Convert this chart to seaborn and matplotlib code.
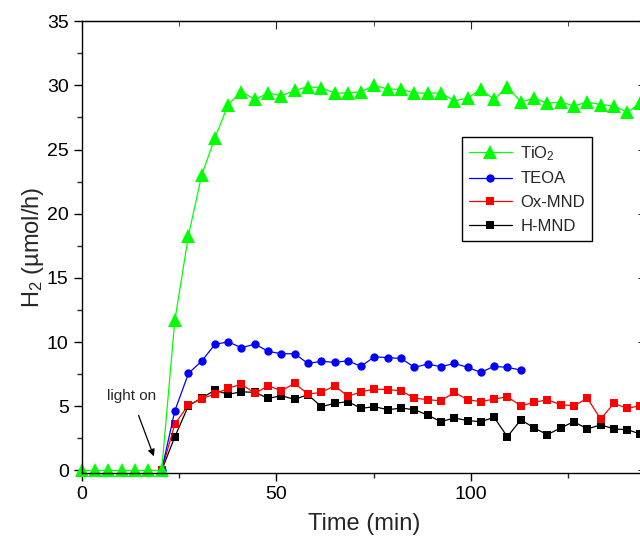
import matplotlib.pyplot as plt
import seaborn as sns

# sampling times (min)
time = [0, 3.4, 6.8, 10.3, 13.7, 17.1, 20.5, 23.9, 27.4, 30.8, 34.2, 37.6,
        41.0, 44.5, 47.9, 51.3, 54.7, 58.1, 61.6, 65.0, 68.4, 71.8, 75.2,
        78.7, 82.1, 85.5, 88.9, 92.3, 95.8, 99.2, 102.6, 106.0, 109.4, 112.9,
        116.3, 119.7, 123.1, 126.5, 130.0, 133.4, 136.8, 140.2, 143.6]

tio2 = [0, 0, 0, 0, 0, 0, 0, 11.7, 18.3, 23.0, 25.9, 28.5, 29.5, 28.9, 29.4,
        29.2, 29.6, 29.9, 29.8, 29.4, 29.4, 29.5, 30.0, 29.7, 29.7, 29.4,
        29.4, 29.4, 28.8, 29.0, 29.7, 28.9, 29.9, 28.7, 29.0, 28.6, 28.7,
        28.4, 28.7, 28.5, 28.4, 27.9, 28.6]

# TEOA starts at the light-on point
teoa_time = time[6:34]
teoa = [0, 4.65, 7.56, 8.52, 9.82, 10.02, 9.56, 9.84, 9.28, 9.09, 9.09,
        8.34, 8.5, 8.42, 8.54, 8.11, 8.86, 8.78, 8.73, 8.03, 8.29, 8.08,
        8.34, 8.03, 7.64, 8.11, 8.03, 7.82]

mnd_time = time[6:]
ox_mnd = [0, 3.62, 5.1, 5.6, 5.95, 6.4, 6.73, 6.0, 6.6, 6.21, 6.79, 5.95,
          6.08, 6.6, 5.77, 6.13, 6.34, 6.29, 6.21, 5.64, 5.51, 5.43, 6.08,
          5.51, 5.36, 5.56, 5.74, 5.04, 5.31, 5.51, 5.12, 5.04, 5.62, 4.01,
          5.23, 4.84, 5.04]
h_mnd = [0, 2.63, 5.04, 5.64, 6.26, 5.93, 6.13, 6.08, 5.62, 5.82, 5.54, 5.9,
         4.97, 5.23, 5.36, 4.84, 4.97, 4.73, 4.86, 4.73, 4.32, 3.8, 4.09,
         3.88, 3.8, 4.14, 2.63, 3.95, 3.31, 2.79, 3.31, 3.8, 3.23, 3.56,
         3.23, 3.18, 2.84]

sns.set_style("ticks")
plt.rcParams["font.family"] = ["Liberation Sans", "DejaVu Sans"]
plt.rcParams["mathtext.fontset"] = "custom"
plt.rcParams["mathtext.rm"] = "Liberation Sans"
plt.rcParams["mathtext.it"] = "Liberation Sans:italic"

fig = plt.figure(figsize=(6.4, 5.36), dpi=100)
# axes run past the right edge of the figure, as in the cropped original
ax = fig.add_axes([0.128, 0.1175, 0.881, 0.843])

sns.lineplot(x=mnd_time, y=h_mnd, ax=ax, color="black", lw=0.9,
             marker="s", markersize=5.5, markeredgewidth=0,
             label="H-MND", clip_on=False)
sns.lineplot(x=mnd_time, y=ox_mnd, ax=ax, color="red", lw=0.9,
             marker="s", markersize=5.5, markeredgewidth=0,
             label="Ox-MND", clip_on=False)
sns.lineplot(x=teoa_time, y=teoa, ax=ax, color="blue", lw=0.9,
             marker="o", markersize=6, markeredgewidth=0,
             label="TEOA", clip_on=False)
sns.lineplot(x=time, y=tio2, ax=ax, color="#00ff00", lw=0.9,
             marker="^", markersize=10, markeredgewidth=0,
             label="TiO$_2$", clip_on=False)

ax.set_xlim(0, 145)
ax.set_ylim(-0.2, 35)
ax.set_xticks([0, 50, 100])
ax.set_xticks([25, 75, 125], minor=True)
ax.set_yticks(range(0, 36, 5))
ax.set_yticks([2.5 + 5 * i for i in range(7)], minor=True)
ax.tick_params(which="major", direction="out", length=6, width=1,
               labelsize=14, colors="black")
ax.tick_params(which="minor", direction="out", length=3.5, width=1)
for s in ax.spines.values():
    s.set_linewidth(1)
    s.set_color("black")

top = ax.secondary_xaxis("top")
top.set_xticks([0, 50, 100])
top.set_xticks([25, 75, 125], minor=True)
top.tick_params(which="both", direction="in", labeltop=False)
top.tick_params(which="major", length=6)
top.tick_params(which="minor", length=3.5)

right = ax.secondary_yaxis("right")
right.set_yticks(range(0, 36, 5))
right.tick_params(direction="in", length=6, labelright=False)

ax.set_xlabel("Time (min)", fontsize=17, labelpad=7)
ax.set_ylabel("H$_2$ (µmol/h)", fontsize=17, labelpad=1)

ax.annotate("light on", xy=(18.5, 1.1), xytext=(12.7, 5.8),
            fontsize=11, ha="center", va="center",
            arrowprops=dict(arrowstyle="-|>", color="black", lw=0.9,
                            shrinkA=7, shrinkB=0, mutation_scale=10))

handles, labels = ax.get_legend_handles_labels()
order = [3, 2, 1, 0]
ax.legend([handles[i] for i in order], [labels[i] for i in order],
          loc="upper left", bbox_to_anchor=(0.674, 0.743), borderaxespad=0,
          fontsize=12, frameon=True, fancybox=False, edgecolor="black",
          framealpha=1, handlelength=2.6, labelspacing=0.53,
          handletextpad=0.5, borderpad=0.4)
ax.get_legend().get_frame().set_linewidth(1)

fig.savefig("out.png", dpi=100)
